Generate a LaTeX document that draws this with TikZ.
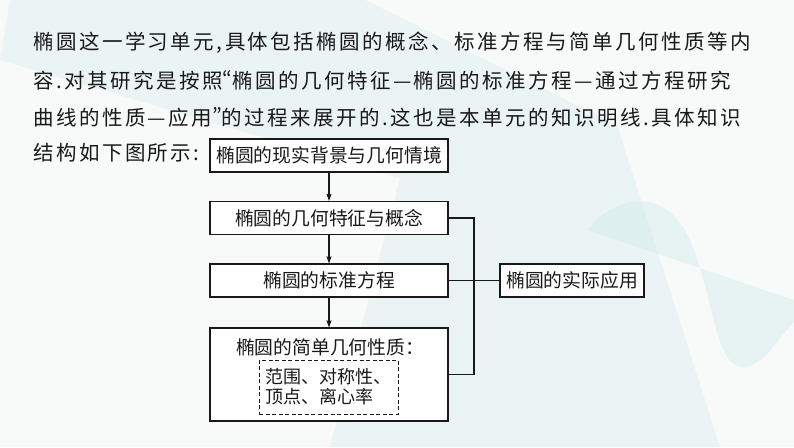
\documentclass[tikz,border=0pt]{standalone}
\usepackage{fontspec}
\setmainfont{Noto Sans CJK SC}
\newfontfamily\bodyfont[LetterSpace=12]{Noto Sans CJK SC}
\newcommand{\openq}{{\addfontfeature{RawFeature=+pwid}“}}
\newcommand{\closeq}{{\addfontfeature{RawFeature=+pwid}”}}
\usepackage{xcolor}
\usetikzlibrary{positioning,arrows.meta}
\definecolor{pagebg}{RGB}{248,249,249}
\definecolor{wave}{RGB}{190,228,228}
\definecolor{ink}{RGB}{25,25,25}

\begin{document}
\begin{tikzpicture}[x=1pt,y=-1pt,
  bodyline/.style={anchor=west,inner sep=0pt,text=ink,font=\bodyfont\fontsize{20.5}{24}\selectfont},
  box/.style={draw=ink,line width=1.2pt,fill=white,inner sep=0pt,text=ink,
    minimum width=238pt,minimum height=33pt,font=\fontsize{18.8}{20}\selectfont},
  itembox/.style={draw=ink,line width=1pt,dash pattern=on 4pt off 2.5pt,inner sep=0pt,
    minimum width=139pt,minimum height=54pt,text=ink,font=\fontsize{18}{20}\selectfont},
  link/.style={draw=ink,line width=1.1pt},
  arr/.style={link,-{Stealth[length=7pt,width=5pt,inset=1pt]}}]
% Page
\fill[pagebg] (0,0) rectangle (794,447);
\useasboundingbox (0,0) rectangle (794,447);

% Background shapes
\fill[wave,opacity=0.22] (10,0) -- (365,0) -- (617,125) -- (400,178) -- (0,60) -- cycle;
\fill[wave,opacity=0.22] (400,178) -- (617,125) -- (720,447) -- (330,447) -- cycle;
\fill[wave,opacity=0.28] (587,230) .. controls (615,195) and (665,185) .. (690,240)
  .. controls (715,300) and (715,370) .. (745,367)
  .. controls (765,365) and (780,335) .. (794,322) -- (794,300) -- cycle;

% Text
\node[bodyline] (line1) at (33,43) {椭圆这一学习单元,具体包括椭圆的概念、标准方程与简单几何性质等内};
\node[bodyline] (line2) at (33,80) {容.对其研究是按照\openq 椭圆的几何特征—椭圆的标准方程—通过方程研究};
\node[bodyline] (line3) at (33,117) {曲线的性质—应用\closeq 的过程来展开的.这也是本单元的知识明线.具体知识};
\node[bodyline] (line4) at (33,153) {结构如下图所示:};

% Boxes
\node[box] (real) at (329,155.5) {椭圆的现实背景与几何情境};
\node[box] (feat) at (329,218) {椭圆的几何特征与概念};
\node[box] (eqn) at (329,280.5) {椭圆的标准方程};
\node[box,minimum height=93pt] (prop) at (329,374.5) {};
\node[box,minimum width=144pt] (app) at (572,280.5) {椭圆的实际应用};
\node[inner sep=0pt,text=ink,font=\fontsize{18.8}{20}\selectfont] (proptitle) at (330,347) {椭圆的简单几何性质：};
\node[itembox,align=left] (propitems) at (328.5,387) {范围、对称性、\\顶点、离心率};

% Connectors
\coordinate (bus) at (474,0);
\draw[arr] (real) -- (feat);
\draw[arr] (feat) -- (eqn);
\draw[arr] (eqn) -- (prop);
\draw[link] (feat.east) -- (feat.east -| bus) -- (prop.east -| bus) -- (prop.east);
\draw[link] (eqn.east) -- (app.west);
\end{tikzpicture}
\end{document}
